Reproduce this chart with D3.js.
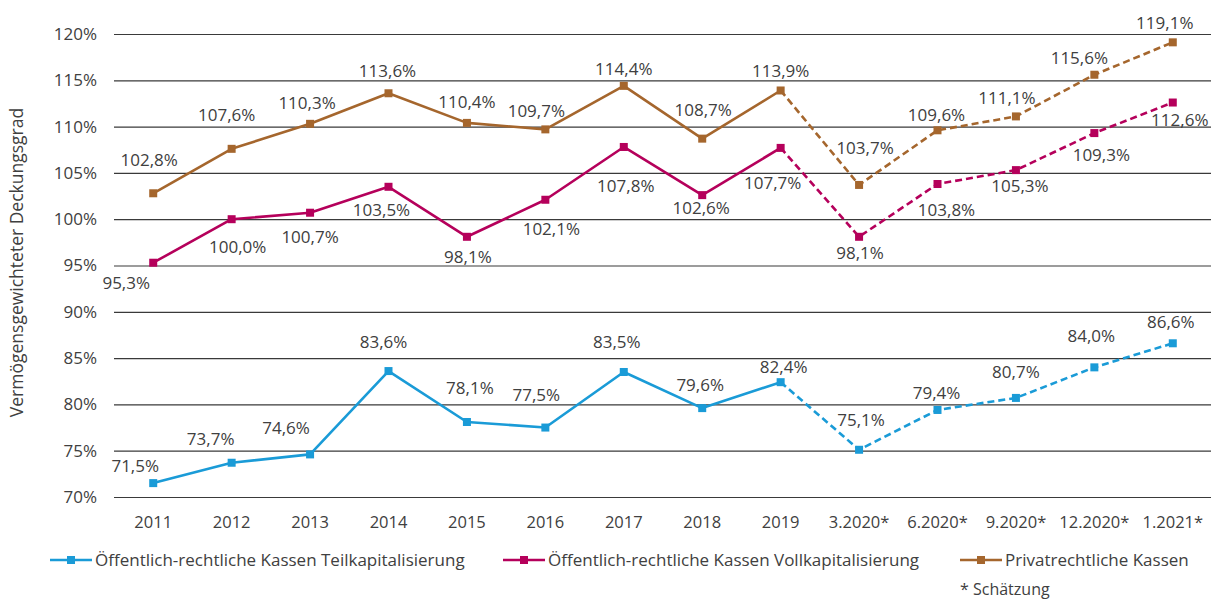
<!DOCTYPE html>
<html>
<head>
<meta charset="utf-8">
<script src="https://cdn.jsdelivr.net/npm/d3@7"></script>
<style>
  body { margin: 0; background: #fff; }
  text { font-family: "Open Sans", sans-serif; fill: #404040; }
</style>
</head>
<body>
<svg id="chart"></svg>
<script>
// categories (x axis)
const periods = ["2011", "2012", "2013", "2014", "2015", "2016", "2017", "2018", "2019",
  "3.2020*", "6.2020*", "9.2020*", "12.2020*", "1.2021*"];

// series values in %
const teilkap = [71.5, 73.7, 74.6, 83.6, 78.1, 77.5, 83.5, 79.6, 82.4, 75.1, 79.4, 80.7, 84.0, 86.6];
const vollkap = [95.3, 100.0, 100.7, 103.5, 98.1, 102.1, 107.8, 102.6, 107.7, 98.1, 103.8, 105.3, 109.3, 112.6];
const privat = [102.8, 107.6, 110.3, 113.6, 110.4, 109.7, 114.4, 108.7, 113.9, 103.7, 109.6, 111.1, 115.6, 119.1];

const seriesNames = ["Öffentlich-rechtliche Kassen Teilkapitalisierung",
  "Öffentlich-rechtliche Kassen Vollkapitalisierung", "Privatrechtliche Kassen"];

const yTicks = [70, 75, 80, 85, 90, 95, 100, 105, 110, 115, 120];
const lastActual = 8; // 2019, estimates (dashed) come after

// label placement relative to the point [dx, dy]
const teilkapLabelPos = [[-18,-17],[-21,-24],[-24,-27],[-5,-29],[3,-34],[-9,-33],[-7,-30],[-2,-23],[3,-15],[2,-30],[-1,-17],[0,-26],[-3,-31],[-2,-21]];
const vollkapLabelPos = [[-27,20],[6,28],[0,24],[-7,23],[1,20],[6,29],[2,39],[-1,13],[-8,35],[1,16],[9,26],[4,16],[7,22],[7,17]];
const privatLabelPos = [[-4,-33],[-5,-34],[-3,-21],[-1,-22],[0,-21],[-9,-18],[0,-17],[1,-29],[0,-20],[6,-37],[-1,-15],[-9,-19],[-15,-17],[-8,-19]];

class DeckungsChart {
  constructor(_config) {
    this.config = {
      parentElement: _config.parentElement,
      containerWidth: _config.containerWidth || 1211,
      containerHeight: _config.containerHeight || 601,
      margin: { top: 34, bottom: 104, right: -1, left: 114 }
    };
    this.initVis();
  }

  initVis() {
    let vis = this;
    vis.width = vis.config.containerWidth - vis.config.margin.left - vis.config.margin.right;
    vis.height = vis.config.containerHeight - vis.config.margin.top - vis.config.margin.bottom;

    vis.svg = d3.select(vis.config.parentElement)
        .attr('width', vis.config.containerWidth)
        .attr('height', vis.config.containerHeight);

    vis.chart = vis.svg.append('g')
        .attr('transform', `translate(${vis.config.margin.left},${vis.config.margin.top})`);

    vis.xScale = d3.scaleBand()
        .domain(periods)
        .range([0, vis.width]);

    vis.yScale = d3.scaleLinear()
        .domain([70, 120])
        .range([vis.height, 0]);

    vis.fmt = d3.formatLocale({ decimal: ",", thousands: ".", grouping: [3], currency: ["", "€"] }).format(".1f");

    vis.series = [
      { name: seriesNames[0], values: teilkap, labels: teilkapLabelPos, color: "#1a9bd7" },
      { name: seriesNames[1], values: vollkap, labels: vollkapLabelPos, color: "#b5005b" },
      { name: seriesNames[2], values: privat, labels: privatLabelPos, color: "#a5662d" }
    ];

    vis.renderVis();
  }

  renderVis() {
    let vis = this;
    const cx = (i) => vis.xScale(periods[i]) + vis.xScale.bandwidth() / 2;

    // y axis with gridlines
    const yAxisG = vis.chart.append('g')
        .call(d3.axisLeft(vis.yScale)
          .tickValues(yTicks)
          .tickSize(-vis.width)
          .tickPadding(17)
          .tickFormat(d => d + "%"));
    yAxisG.select('.domain').remove();
    yAxisG.selectAll('.tick line').attr('stroke', '#3a3a3a').attr('stroke-width', 1.2);
    yAxisG.selectAll('.tick text').style('font-size', '17px').attr('fill', '#404040');

    // x axis
    const xAxisG = vis.chart.append('g')
        .attr('transform', `translate(0,${vis.height})`)
        .call(d3.axisBottom(vis.xScale).tickSize(0).tickPadding(19));
    xAxisG.select('.domain').remove();
    xAxisG.selectAll('.tick text').style('font-size', '16.5px').attr('fill', '#404040');

    // y axis title
    vis.svg.append('text')
        .attr('transform', `translate(23,${vis.config.margin.top + vis.height / 2 - 3}) rotate(-90)`)
        .attr('text-anchor', 'middle')
        .style('font-size', '17.5px')
        .text('Vermögensgewichteter Deckungsgrad');

    const line = d3.line()
        .x(d => cx(d.i))
        .y(d => vis.yScale(d.v));

    vis.series.forEach(s => {
      const pts = s.values.map((v, i) => ({ v: v, i: i }));
      vis.chart.append('path')
          .attr('d', line(pts.slice(0, lastActual + 1)))
          .attr('fill', 'none')
          .attr('stroke', s.color)
          .attr('stroke-width', 2.6)
          .attr('stroke-linejoin', 'round');
      vis.chart.append('path')
          .attr('d', line(pts.slice(lastActual)))
          .attr('fill', 'none')
          .attr('stroke', s.color)
          .attr('stroke-width', 2.6)
          .attr('stroke-dasharray', '7,4');

      vis.chart.selectAll(null)
        .data(pts)
        .enter()
        .append('rect')
          .attr('x', d => cx(d.i) - 4)
          .attr('y', d => vis.yScale(d.v) - 4)
          .attr('width', 8)
          .attr('height', 8)
          .attr('fill', s.color);

      vis.chart.selectAll(null)
        .data(pts)
        .enter()
        .append('text')
          .attr('x', d => cx(d.i) + s.labels[d.i][0])
          .attr('y', d => vis.yScale(d.v) + s.labels[d.i][1])
          .attr('text-anchor', 'middle')
          .attr('dy', '0.36em')
          .style('font-size', '17px')
          .text(d => vis.fmt(d.v) + "%");
    });

    // legend
    const legendX = [50, 503, 960];
    vis.series.forEach((s, k) => {
      const g = vis.svg.append('g').attr('transform', `translate(${legendX[k]},560)`);
      g.append('line')
          .attr('x1', 0).attr('x2', 42)
          .attr('stroke', s.color).attr('stroke-width', 2.6);
      g.append('rect')
          .attr('x', 17).attr('y', -4).attr('width', 8).attr('height', 8)
          .attr('fill', s.color);
      g.append('text')
          .attr('x', 45)
          .attr('dy', '0.36em')
          .style('font-size', '17px')
          .text(s.name);
    });

    vis.svg.append('text')
        .attr('x', 960)
        .attr('y', 595)
        .style('font-size', '16px')
        .text('* Schätzung');
  }
}

new DeckungsChart({ parentElement: '#chart' });
</script>
</body>
</html>
